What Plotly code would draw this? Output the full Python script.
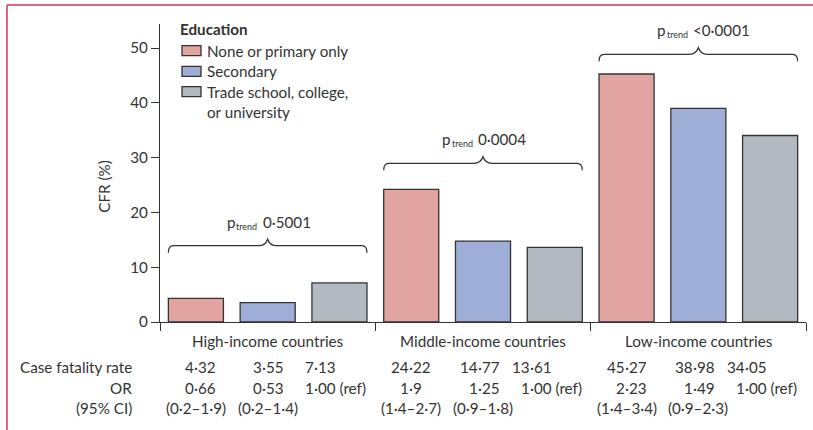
import plotly.graph_objects as go

# ---------------- data ----------------
groups = ["High-income countries", "Middle-income countries", "Low-income countries"]
education = ["None or primary only", "Secondary", "Trade school, college,<br>or university"]
cfr_none = [4.32, 24.22, 45.27]
cfr_secondary = [3.55, 14.77, 38.98]
cfr_trade = [7.13, 13.61, 34.05]
or_none = ["0·66", "1·9", "2·23"]
or_secondary = ["0·53", "1·25", "1·49"]
or_trade = ["1·00 (ref)", "1·00 (ref)", "1·00 (ref)"]
ci_none = ["(0·2–1·9)", "(1·4–2·7)", "(1·4–3·4)"]
ci_secondary = ["(0·2–1·4)", "(0·9–1·8)", "(0·9–2·3)"]
ci_trade = ["", "", ""]
p_trend = ["0·5001", "0·0004", "&lt;0·0001"]
row_labels = ["Case fatality rate", "OR", "(95% CI)"]
y_ticks = [0, 10, 20, 30, 40, 50]

# ---------------- style / layout ----------------
colors = ["#e2a4a1", "#9eaed7", "#b2b9c0"]
INK = "#333333"
FRAME = "#d2345f"
FONT = "Lato, 'Open Sans', sans-serif"
FS = 15.2

W, H = 813, 430
L, R, T, B = 160, 7, 24, 108
PW, PH = W - L - R, H - T - B
YMAX = 54.4
XMAX = 9
XPU = PW / XMAX
YPU = PH / YMAX
BAR_W = 0.767


def pxx(px):  # pixel -> paper x
    return (px - L) / PW


def pxy(py):  # pixel -> paper y
    return (H - B - py) / PH


def dy(py):  # pixel -> data y
    return (H - B - py) / YPU


series = [cfr_none, cfr_secondary, cfr_trade]
or_rows = [or_none, or_secondary, or_trade]
ci_rows = [ci_none, ci_secondary, ci_trade]

fig = go.Figure()
for k, (name, vals, col) in enumerate(zip(education, series, colors)):
    fig.add_trace(go.Bar(
        x=[3 * g + 0.5 + k for g in range(len(groups))],
        y=vals, name=name, width=BAR_W,
        marker=dict(color=col, line=dict(color=INK, width=1.3)),
        showlegend=False, hoverinfo="skip",
    ))

annotations = []
shapes = []


def ann(text, x, y, xanchor="center", yanchor="middle", xref="paper", yref="paper", **kw):
    d = dict(text=text, x=x, y=y, xref=xref, yref=yref, xanchor=xanchor, yanchor=yanchor,
             showarrow=False, borderpad=0, borderwidth=0,
             font=dict(family=FONT, size=kw.pop("size", FS), color=INK))
    d.update(kw)
    annotations.append(d)


# group labels under axis
for g, name in enumerate(groups):
    ann(name, 3 * g + 1.5, pxy(340.5), xref="x")

# table rows
ROW_Y = [367, 387.5, 408]
DEC_OFF = [-2, -5.5, -25]
for r, lab in enumerate(row_labels):
    ann(lab, pxx(132), pxy(ROW_Y[r]), xanchor="right")


def dec_cell(xd, py, s):
    if "·" in s:
        i = s.index("·")
        ann(s[:i], xd, pxy(py), xanchor="right", xref="x")
        ann(s[i:], xd, pxy(py), xanchor="left", xref="x")
    else:
        ann(s, xd, pxy(py), xref="x")


for g in range(len(groups)):
    for k in range(3):
        xc = 3 * g + 0.5 + k
        xd = xc + DEC_OFF[k] / XPU
        dec_cell(xd, ROW_Y[0], f"{series[k][g]:.2f}".replace(".", "·"))
        dec_cell(xd, ROW_Y[1], or_rows[k][g])
        if ci_rows[k][g]:
            ann(ci_rows[k][g], xc, pxy(ROW_Y[2]), xref="x")

# braces + p trend
BRACE_PX = [245.7, 163.3, 54.3]
drop = 7 / YPU
rise = 6.5 / YPU
rr = 5 / XPU
hw = 9 / XPU
for g in range(len(groups)):
    xs = 3 * g + 0.5 - BAR_W / 2
    xe = 3 * g + 2.5 + BAR_W / 2
    xm = 3 * g + 1.5
    yl = dy(BRACE_PX[g])
    path = (f"M{xs},{yl - drop} Q{xs},{yl} {xs + rr},{yl} L{xm - hw},{yl} "
            f"Q{xm - hw * 0.25},{yl} {xm},{yl + rise} Q{xm + hw * 0.25},{yl} {xm + hw},{yl} "
            f"L{xe - rr},{yl} Q{xe},{yl} {xe},{yl - drop}")
    shapes.append(dict(type="path", path=path, xref="x", yref="y",
                       line=dict(color=INK, width=1.3)))
    ty = BRACE_PX[g] - 24
    ann("p", xm - 32 / XPU, pxy(ty), xanchor="right", xref="x")
    ann("trend", xm - 31.5 / XPU, pxy(ty + 4.5), xanchor="left", xref="x", size=9)
    ann(p_trend[g], xm - 5 / XPU, pxy(ty), xanchor="left", xref="x")

# legend (manual)
ann("<b>Education</b>", pxx(180), pxy(29), xanchor="left")
LEG_Y = [50.7, 71.3, 91.7]
for k, name in enumerate(education):
    c = LEG_Y[k]
    shapes.append(dict(type="rect", xref="paper", yref="paper",
                       x0=pxx(182), x1=pxx(201), y0=pxy(c + 5), y1=pxy(c - 5),
                       fillcolor=colors[k], line=dict(color=INK, width=1.3)))
    nlines = name.count("<br>") + 1
    ann(name, pxx(207), pxy(c + (nlines - 1) * 10.7), xanchor="left", align="left")

# y title
ann("CFR (%)", pxx(104), pxy(186.7), textangle=-90)

# frame
shapes.append(dict(type="line", xref="paper", yref="paper", x0=pxx(7), x1=pxx(813),
                   y0=pxy(5), y1=pxy(5), line=dict(color=FRAME, width=1.5)))
shapes.append(dict(type="line", xref="paper", yref="paper", x0=pxx(7), x1=pxx(7),
                   y0=pxy(5), y1=pxy(430), line=dict(color=FRAME, width=1.5)))

fig.update_layout(
    width=W, height=H,
    margin=dict(l=L, r=R, t=T, b=B, pad=0),
    paper_bgcolor="white", plot_bgcolor="white",
    barmode="overlay",
    font=dict(family=FONT, size=FS, color=INK),
    annotations=annotations, shapes=shapes,
    xaxis=dict(range=[0, XMAX], showgrid=False, zeroline=False, showline=True,
               linecolor=INK, linewidth=1.3, ticks="outside", ticklen=8,
               tickcolor=INK, tickwidth=1.3, tickvals=[0, 3, 6, 9],
               showticklabels=False, fixedrange=True),
    yaxis=dict(range=[0, YMAX], showgrid=False, zeroline=False, showline=True,
               linecolor=INK, linewidth=1.3, ticks="outside", ticklen=8,
               tickcolor=INK, tickwidth=1.3, tickvals=y_ticks,
               tickfont=dict(family=FONT, size=FS, color=INK), fixedrange=True),
    showlegend=False,
)

fig.write_html("out.html", config={"displayModeBar": False},
               post_script="document.body.style.margin='0';document.body.style.overflow='hidden';")
